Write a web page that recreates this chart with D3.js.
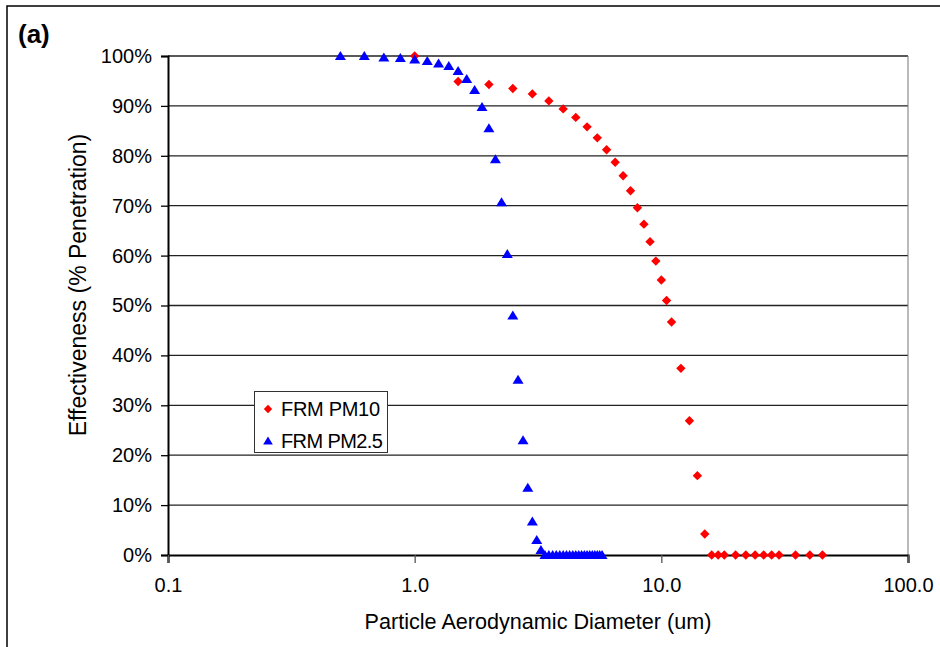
<!DOCTYPE html>
<html>
<head>
<meta charset="utf-8">
<script src="https://cdn.jsdelivr.net/npm/d3@7"></script>
<style>
  html, body { margin: 0; padding: 0; background: #fff; }
  svg { display: block; font-family: "Liberation Sans", Arial, sans-serif; }
</style>
</head>
<body>
<svg id="chart" width="940" height="647"></svg>
<script>
// ---------- DATA ----------
const pm10Diameter = [1.0, 1.5, 2.0, 2.5, 3.0, 3.5, 4.0, 4.5, 5.0, 5.5, 6.0, 6.5, 7.0, 7.5, 8.0, 8.5, 9.0, 9.5, 10.0, 10.5, 11.0, 12.0, 13.0, 14.0, 15.0,
                      16, 17, 18, 20, 22, 24, 26, 28, 30, 35, 40, 45];
const pm10Effect   = [100, 94.9, 94.3, 93.5, 92.4, 91.0, 89.4, 87.7, 85.8, 83.6, 81.2, 78.7, 76.0, 73.0, 69.6, 66.3, 62.8, 58.9, 55.1, 51.0, 46.7, 37.4, 26.9, 15.9, 4.2,
                      0, 0, 0, 0, 0, 0, 0, 0, 0, 0, 0, 0];
const pm25Diameter = [0.5, 0.625, 0.75, 0.875, 1.0, 1.125, 1.25, 1.375, 1.5, 1.625, 1.75, 1.875, 2.0, 2.125, 2.25, 2.375, 2.5, 2.625, 2.75, 2.875, 3.0, 3.125, 3.25,
                      3.375, 3.5, 3.625, 3.75, 3.875, 4.0, 4.125, 4.25, 4.375, 4.5, 4.625, 4.75, 4.875, 5.0, 5.125, 5.25, 5.375, 5.5, 5.625, 5.75];
const pm25Effect   = [100, 100, 99.7, 99.6, 99.3, 99.0, 98.5, 98.0, 97.0, 95.4, 93.2, 89.8, 85.5, 79.3, 70.7, 60.3, 48.0, 35.1, 23.0, 13.5, 6.7, 3.0, 1.0,
                      0, 0, 0, 0, 0, 0, 0, 0, 0, 0, 0, 0, 0, 0, 0, 0, 0, 0, 0, 0];
const xTickValues = [0.1, 1, 10, 100];
const xTickLabels = ["0.1", "1.0", "10.0", "100.0"];
const yTickValues = [0, 10, 20, 30, 40, 50, 60, 70, 80, 90, 100];
const yTickLabels = ["0%", "10%", "20%", "30%", "40%", "50%", "60%", "70%", "80%", "90%", "100%"];
const seriesNames = ["FRM PM10", "FRM PM2.5"];
const panelLabel = "(a)";
const xTitle = "Particle Aerodynamic Diameter (um)";
const yTitle = "Effectiveness (% Penetration)";

// ---------- LAYOUT ----------
const L = 168, R = 908, T = 56, B = 555;
const svg = d3.select("#chart");
const x = d3.scaleLog().domain([0.1, 100]).range([L, R]);
const y = d3.scaleLinear().domain([0, 100]).range([B, T]);

// outer frame (extends beyond right/bottom edge)
svg.append("rect").attr("x", 7).attr("y", 6).attr("width", 1000).attr("height", 800)
  .attr("fill", "none").attr("stroke", "#000").attr("stroke-width", 1.5);

// panel label
svg.append("text").attr("x", 18).attr("y", 43).attr("font-size", 26).attr("font-weight", "bold")
  .text(panelLabel);

// gridlines
svg.append("g").selectAll("line").data(yTickValues.filter(v => v > 0)).join("line")
  .attr("x1", L).attr("x2", R).attr("y1", d => y(d)).attr("y2", d => y(d))
  .attr("stroke", "#222").attr("stroke-width", 1.3);

// right border of plot
svg.append("line").attr("x1", R).attr("x2", R).attr("y1", T).attr("y2", B)
  .attr("stroke", "#777").attr("stroke-width", 1);

// y axis
const yAxis = d3.axisLeft(y).tickValues(yTickValues)
  .tickFormat((d, i) => yTickLabels[i]).tickSize(7).tickPadding(9);
const gy = svg.append("g").attr("transform", `translate(${L},0)`).call(yAxis);
gy.select(".domain").attr("stroke", "#000").attr("stroke-width", 2);
gy.selectAll(".tick line").attr("stroke", "#000").attr("stroke-width", 1.3);
gy.selectAll(".tick text").attr("font-size", 20).attr("fill", "#000")
  .attr("font-family", "Liberation Sans, Arial, sans-serif");

// x axis
const xAxis = d3.axisBottom(x).tickValues(xTickValues)
  .tickFormat((d, i) => xTickLabels[i]).tickSize(8).tickPadding(15);
const gx = svg.append("g").attr("transform", `translate(0,${B})`).call(xAxis);
gx.select(".domain").attr("stroke", "#000").attr("stroke-width", 2.2);
gx.selectAll(".tick line").attr("stroke", "#555").attr("stroke-width", 1.3);
gx.selectAll(".tick text").attr("font-size", 20).attr("fill", "#000")
  .attr("font-family", "Liberation Sans, Arial, sans-serif");

// axis titles
svg.append("text").attr("x", (L + R) / 2).attr("y", 629).attr("text-anchor", "middle")
  .attr("font-size", 21.6).text(xTitle);
svg.append("text").attr("transform", "translate(86,285) rotate(-90)").attr("text-anchor", "middle")
  .attr("font-size", 23).text(yTitle);

// marker shapes
const diamond = s => `M0,${-s}L${s},0L0,${s}L${-s},0Z`;
const triangle = s => `M0,${-s}L${s * 1.1},${s * 0.8}L${-s * 1.1},${s * 0.8}Z`;

// PM10 series (red diamonds)
svg.append("g").selectAll("path").data(pm10Diameter.map((d, i) => [d, pm10Effect[i]])).join("path")
  .attr("d", diamond(4.7))
  .attr("transform", d => `translate(${x(d[0])},${y(d[1])})`)
  .attr("fill", "#ff0000");

// PM2.5 series (blue triangles)
svg.append("g").selectAll("path").data(pm25Diameter.map((d, i) => [d, pm25Effect[i]])).join("path")
  .attr("d", triangle(5))
  .attr("transform", d => `translate(${x(d[0])},${y(d[1])})`)
  .attr("fill", "#0000ff");

// legend
const lg = svg.append("g");
lg.append("rect").attr("x", 254.5).attr("y", 391.5).attr("width", 133).attr("height", 61)
  .attr("fill", "#fff").attr("stroke", "#333").attr("stroke-width", 1);
lg.append("path").attr("d", diamond(4.2)).attr("transform", "translate(268,409)").attr("fill", "#ff0000");
lg.append("path").attr("d", triangle(4.4)).attr("transform", "translate(268,441)").attr("fill", "#0000ff");
lg.append("text").attr("x", 281).attr("y", 416).attr("font-size", 20).attr("letter-spacing", -0.3).text(seriesNames[0]);
lg.append("text").attr("x", 281).attr("y", 448).attr("font-size", 20).attr("letter-spacing", -0.6).text(seriesNames[1]);
</script>
</body>
</html>
